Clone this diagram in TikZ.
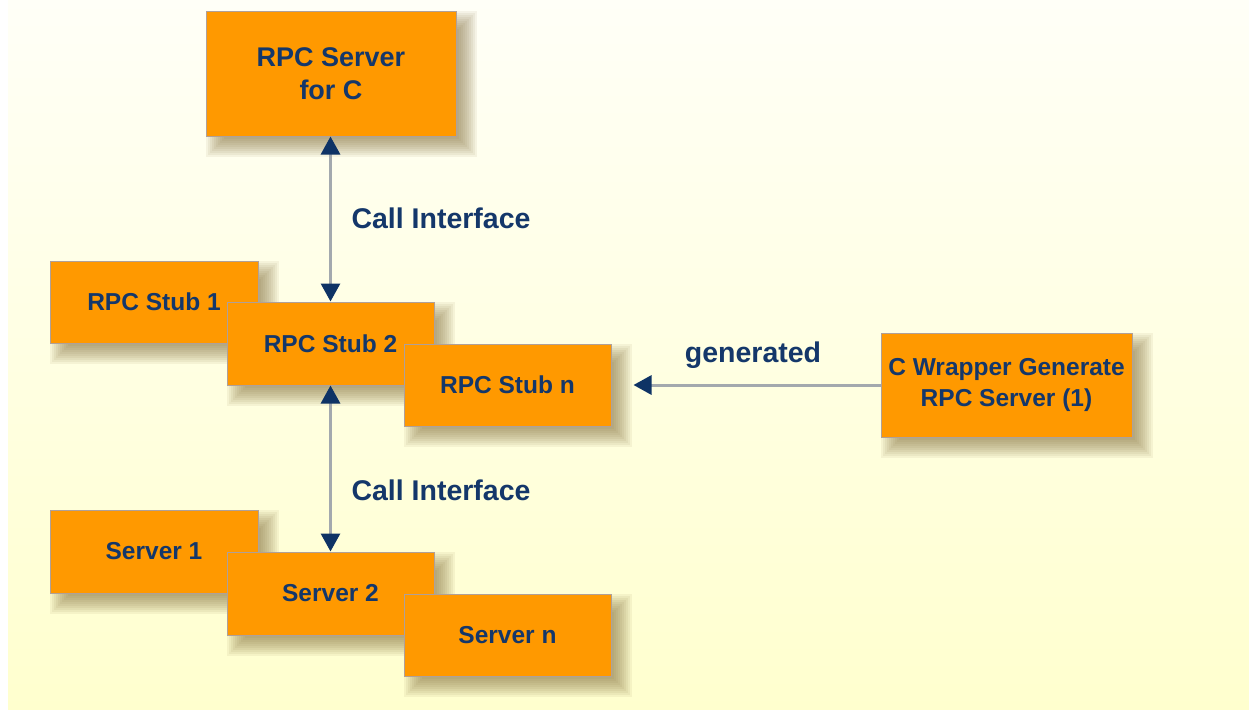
\documentclass[tikz,border=0pt]{standalone}
\usepackage{fontspec}
\setmainfont{Liberation Sans}
\usetikzlibrary{arrows.meta}
\definecolor{boxorange}{HTML}{FF9900}
\definecolor{boxedge}{HTML}{B0A098}
\definecolor{txtblue}{HTML}{14376A}
\definecolor{tipblue}{HTML}{0E3365}
\definecolor{shaftgray}{HTML}{A3A9AE}
\definecolor{bgtop}{HTML}{FFFFF7}
\definecolor{bgbot}{HTML}{FFFFCE}
\definecolor{shcol}{HTML}{806A38}
\pgfdeclarelayer{bglayer}
\pgfdeclarelayer{shlayer}
\pgfsetlayers{bglayer,shlayer,main}
\newcommand\myshadow[1]{%
  \begin{pgfonlayer}{shlayer}
  \foreach \e in {10,8,...,-8}{%
    \fill[shcol, opacity=0.078] ([shift={(10-\e,10-\e)}]#1.north west) rectangle ([shift={(10+\e,10+\e)}]#1.south east);
  }
  \end{pgfonlayer}}
\begin{document}
\begin{tikzpicture}[x=1pt,y=-1pt,
  box/.style={draw=boxedge, line width=1pt, fill=boxorange,
    text=txtblue, font=\bfseries\fontsize{24.5}{30.5}\selectfont, align=center,
    inner sep=0pt},
  lbl/.style={text=txtblue, font=\bfseries\fontsize{28.5}{34}\selectfont, inner sep=0pt},
  conn/.style={draw=shaftgray, line width=3pt,
    arrows={-Triangle[length=18pt,width=19pt,color=tipblue]}},
  conn2/.style={draw=shaftgray, line width=3pt,
    arrows={Triangle[length=18pt,width=19pt,color=tipblue]-Triangle[length=18pt,width=19pt,color=tipblue]}}]
\useasboundingbox (0,0) rectangle (1249,712);
\begin{pgfonlayer}{bglayer}
\fill[white] (0,0) rectangle (1249,712);
\shade[top color=bgtop, bottom color=bgbot] (8,0) rectangle (1249,709);
\end{pgfonlayer}

% boxes
\node[box, minimum width=250pt, minimum height=125pt, font=\bfseries\fontsize{27}{33}\selectfont] (top) at (331,73.5) {RPC Server\\for C};
\node[box, minimum width=208pt, minimum height=82pt] (stub1) at (154,302) {RPC Stub 1};
\node[box, minimum width=207pt, minimum height=83pt] (stub2) at (330.5,343.5) {RPC Stub 2};
\node[box, minimum width=207pt, minimum height=82pt] (stubn) at (507.5,385) {RPC Stub n};
\node[box, minimum width=251pt, minimum height=104pt] (wrap) at (1006.5,385) {C Wrapper Generate\\RPC Server (1)};
\node[box, minimum width=208pt, minimum height=83pt] (srv1) at (154,551.5) {Server 1};
\node[box, minimum width=207pt, minimum height=83pt] (srv2) at (330.5,593.5) {Server 2};
\node[box, minimum width=207pt, minimum height=82pt] (srvn) at (507.5,635) {Server n};

% shadows
\myshadow{top}
\myshadow{stub1}
\myshadow{stub2}
\myshadow{stubn}
\myshadow{wrap}
\myshadow{srv1}
\myshadow{srv2}
\myshadow{srvn}

% connectors
\draw[conn2] (stub2.north) -- (stub2.north |- top.south);
\draw[conn2] (stub2.south) -- (srv2.north);
\draw[conn, shorten >=22pt] (wrap.west) -- (stubn.east);

% labels
\node[lbl] (ci1) at (441,218.5) {Call Interface};
\node[lbl] (ci2) at (441,490) {Call Interface};
\node[lbl] (gen) at (753,355) {generated};
\end{tikzpicture}
\end{document}
